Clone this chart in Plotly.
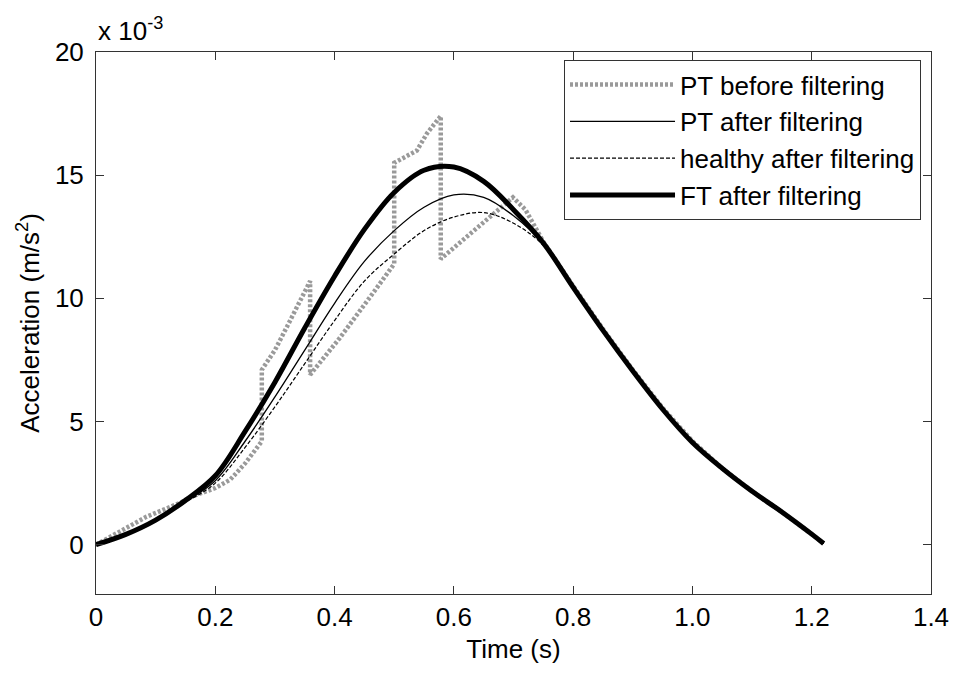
import plotly.graph_objects as go

# Time grid for filtered signals (s)
t_filt = [0, 0.05, 0.1, 0.15, 0.2, 0.25, 0.3, 0.35, 0.4, 0.45, 0.5, 0.55, 0.6,
          0.65, 0.7, 0.75, 0.8, 0.85, 0.9, 0.95, 1.0, 1.05, 1.1, 1.15, 1.2, 1.22]

# Acceleration values in units of 1e-3 m/s^2
ft_after = [0, 0.42, 1.0, 1.8, 2.8, 4.6, 6.6, 8.8, 10.9, 12.8, 14.3, 15.2, 15.33,
            14.75, 13.6, 12.25, 10.45, 8.7, 7.05, 5.5, 4.15, 3.1, 2.17, 1.33, 0.43, 0.05]
pt_after = [0, 0.42, 1.0, 1.75, 2.6, 4.2, 6.0, 7.9, 9.8, 11.5, 12.75, 13.7, 14.2,
            14.1, 13.35, 12.2, 10.45, 8.7, 7.05, 5.5, 4.15, 3.1, 2.17, 1.33, 0.43, 0.05]
healthy_after = [0, 0.42, 1.0, 1.72, 2.5, 3.95, 5.6, 7.35, 9.1, 10.7, 11.8, 12.75, 13.3,
                 13.48, 13.05, 12.15, 10.45, 8.7, 7.05, 5.5, 4.15, 3.1, 2.17, 1.33, 0.43, 0.05]

# PT before filtering (raw, with jumps)
t_raw = [0, 0.05, 0.085, 0.141, 0.16, 0.2, 0.225, 0.25, 0.278,
         0.278, 0.3, 0.32, 0.359,
         0.359, 0.409, 0.464, 0.5,
         0.5, 0.538, 0.555, 0.578,
         0.578, 0.622, 0.66, 0.699, 0.72, 0.75, 0.8, 0.85, 0.9, 0.95,
         1.0, 1.05, 1.1, 1.15, 1.2, 1.22]
pt_before = [0, 0.65, 1.14, 1.7, 1.95, 2.3, 2.64, 3.3, 4.2,
             7.1, 7.9, 8.84, 10.7,
             6.9, 8.4, 10.2, 11.4,
             15.5, 16.0, 16.7, 17.4,
             11.6, 12.5, 13.3, 14.1, 13.6, 12.3, 10.5, 8.75, 7.1, 5.55,
             4.2, 3.1, 2.17, 1.33, 0.43, 0.05]

x_ticks = [0, 0.2, 0.4, 0.6, 0.8, 1.0, 1.2, 1.4]
x_tick_labels = ["0", "0.2", "0.4", "0.6", "0.8", "1.0", "1.2", "1.4"]
y_ticks = [0, 5, 10, 15, 20]
y_tick_labels = ["0", "5", "10", "15", "20"]

FONT = "Liberation Sans, Arial, sans-serif"
FS = 26

fig = go.Figure()
fig.add_trace(go.Scatter(x=t_raw, y=pt_before, mode="lines", name="PT before filtering",
                         line=dict(color="#9a9a9a", width=4.5, dash="3px,2px")))
fig.add_trace(go.Scatter(x=t_filt, y=pt_after, mode="lines", name="PT after filtering",
                         line=dict(color="black", width=1.3, shape="spline")))
fig.add_trace(go.Scatter(x=t_filt, y=healthy_after, mode="lines", name="healthy after filtering",
                         line=dict(color="black", width=1.2, dash="4px,2px", shape="spline")))
fig.add_trace(go.Scatter(x=t_filt, y=ft_after, mode="lines", name="FT after filtering",
                         line=dict(color="black", width=5, shape="spline")))

axis_common = dict(showline=True, linecolor="#333333", linewidth=1, mirror="ticks",
                   ticks="inside", ticklen=8, tickcolor="#333333", showgrid=False,
                   zeroline=False, automargin=False,
                   tickfont=dict(family=FONT, size=FS, color="black"))

fig.update_xaxes(range=[0, 1.4], tickvals=x_ticks, ticktext=x_tick_labels,
                 title=dict(text="Time (s)", font=dict(family=FONT, size=FS, color="black"),
                            standoff=8),
                 **axis_common)
fig.update_yaxes(range=[-2, 20], tickvals=y_ticks, ticktext=y_tick_labels,
                 title=dict(text="Acceleration (m/s<sup>2</sup>)",
                            font=dict(family=FONT, size=FS, color="black"), standoff=7),
                 ticklabelstandoff=6,
                 **axis_common)

fig.add_annotation(text="x 10<sup>-3</sup>", xref="paper", yref="paper", x=0, y=1,
                   xanchor="left", yanchor="bottom", yshift=4, showarrow=False,
                   font=dict(family=FONT, size=FS, color="black"))

fig.update_layout(
    width=969, height=667,
    margin=dict(l=88, r=46, t=44, b=81),
    plot_bgcolor="white", paper_bgcolor="white",
    legend=dict(x=0.5605, y=0.985, xanchor="left", yanchor="top",
                bordercolor="#333333", borderwidth=1, bgcolor="white",
                font=dict(family=FONT, size=FS, color="black"),
                itemwidth=105, tracegroupgap=0),
    showlegend=True,
)

fig.write_html("out.html")
